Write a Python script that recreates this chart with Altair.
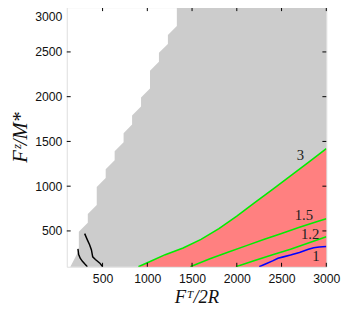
import altair as alt
import pandas as pd

# staircase left edge of the gray region
gray_x = [1330, 1330, 1230, 1230, 1130, 1130, 1030, 1030, 930, 930, 830, 830,
          735, 735, 635, 635, 535, 535, 435, 435, 335, 335, 235, 235, 140]
gray_y = [3000, 2790, 2690, 2590, 2490, 2390, 2290, 2090, 1990, 1890, 1790, 1690,
          1590, 1490, 1390, 1290, 1190, 1090, 990, 790, 690, 590, 490, 280, 100]

# contour curves
c3_x = [900, 1000, 1200, 1400, 1600, 1800, 2000, 2200, 2400, 2600, 2800, 3000]
c3_y = [100, 145, 235, 310, 405, 525, 665, 815, 965, 1115, 1265, 1420]
c15_x = [1480, 1700, 1900, 2100, 2300, 2500, 2700, 2900, 3000]
c15_y = [100, 190, 262, 333, 403, 470, 540, 605, 635]
c12_x = [1990, 2200, 2400, 2600, 2800, 3000]
c12_y = [100, 170, 235, 295, 365, 435]
c1_x = [2250, 2320, 2400, 2460, 2520, 2600, 2700, 2800, 2860, 2920, 3000]
c1_y = [100, 130, 165, 195, 210, 230, 260, 295, 312, 320, 325]
blackA_x = [300, 330, 355, 375, 390, 420, 470, 500]
blackA_y = [470, 400, 345, 290, 210, 180, 140, 100]
blackB_x = [225, 232, 250, 275, 300, 330]
blackB_y = [300, 240, 195, 160, 132, 100]

lab_text = ["3", "1.5", "1.2", "1"]
lab_x = [2710, 2750, 2820, 2885]
lab_y = [1350, 675, 460, 220]

ticks = [500, 1000, 1500, 2000, 2500, 3000]

W, H = 265, 265
xs = alt.Scale(domain=[100, 3000], nice=False, zero=False)
ys = alt.Scale(domain=[100, 3000], nice=False, zero=False)

xax = alt.Axis(values=ticks, format="d", labelOverlap=False, labelFlush=False,
               title="Fᵀ/2R", grid=False, ticks=False, domain=False,
               labelFont="Liberation Sans", labelFontSize=12.5, labelColor="#111",
               labelPadding=6, titleFont="Liberation Serif", titleFontStyle="italic",
               titleFontWeight="normal", titleFontSize=19, titleColor="#111", titlePadding=3)
yax = alt.Axis(values=ticks, format="d", labelOverlap=False, labelFlush=True,
               labelFlushOffset=-4,
               title="Fᶻ/M*", grid=False, ticks=False, domain=False,
               labelFont="Liberation Sans", labelFontSize=12.5, labelColor="#111",
               labelPadding=5, titleFont="Liberation Serif", titleFontStyle="italic",
               titleFontWeight="normal", titleFontSize=21, titleColor="#111", titlePadding=4)

gray_df = pd.DataFrame({"x": gray_x, "y": gray_y})
gray = alt.Chart(gray_df).mark_area(orient="horizontal", color="#cccccc", opacity=1).encode(
    y=alt.Y("y:Q", scale=ys, axis=yax),
    x=alt.X("x:Q", scale=xs, axis=xax),
    x2=alt.datum(3000),
)

pink_df = pd.DataFrame({"x": c3_x, "y": c3_y})
pink = alt.Chart(pink_df).mark_area(color="#ff8080", opacity=1).encode(
    x=alt.X("x:Q", scale=xs), y=alt.Y("y:Q", scale=ys), y2=alt.datum(100)
)

green_df = pd.concat([
    pd.DataFrame({"x": c3_x, "y": c3_y, "s": "3"}),
    pd.DataFrame({"x": c15_x, "y": c15_y, "s": "1.5"}),
    pd.DataFrame({"x": c12_x, "y": c12_y, "s": "1.2"}),
])
green = alt.Chart(green_df).mark_line(color="#00ee00", strokeWidth=1.6, clip=True).encode(
    x=alt.X("x:Q", scale=xs), y=alt.Y("y:Q", scale=ys), detail="s:N"
)

blue = alt.Chart(pd.DataFrame({"x": c1_x, "y": c1_y})).mark_line(
    color="#0000ff", strokeWidth=1.6, clip=True).encode(
    x=alt.X("x:Q", scale=xs), y=alt.Y("y:Q", scale=ys))

black_df = pd.concat([
    pd.DataFrame({"x": blackA_x, "y": blackA_y, "s": "a"}),
    pd.DataFrame({"x": blackB_x, "y": blackB_y, "s": "b"}),
])
black = alt.Chart(black_df).mark_line(color="black", strokeWidth=1.5, clip=True).encode(
    x=alt.X("x:Q", scale=xs), y=alt.Y("y:Q", scale=ys), detail="s:N", order="y:Q")

labels = alt.Chart(pd.DataFrame({"t": lab_text, "x": lab_x, "y": lab_y})).mark_text(
    font="Liberation Serif", fontSize=15, color="#222").encode(
    x=alt.X("x:Q", scale=xs), y=alt.Y("y:Q", scale=ys), text="t:N")

tdf = pd.DataFrame({"v": ticks})
tx_b = alt.Chart(tdf).mark_rule(color="black", strokeWidth=1).encode(
    x=alt.X("v:Q", scale=xs), y=alt.value(H), y2=alt.value(H - 4))
tx_t = alt.Chart(tdf).mark_rule(color="black", strokeWidth=1).encode(
    x=alt.X("v:Q", scale=xs), y=alt.value(0), y2=alt.value(4))
ty_l = alt.Chart(tdf).mark_rule(color="black", strokeWidth=1).encode(
    y=alt.Y("v:Q", scale=ys), x=alt.value(0), x2=alt.value(4))
ty_r = alt.Chart(tdf).mark_rule(color="black", strokeWidth=1).encode(
    y=alt.Y("v:Q", scale=ys), x=alt.value(W), x2=alt.value(W - 4))

chart = alt.layer(gray, pink, green, blue, black, labels, tx_b, tx_t, ty_l, ty_r).properties(
    width=W, height=H,
    autosize=alt.AutoSizeParams(type="none"),
    padding={"left": 60, "top": -4, "right": 15, "bottom": 40},
).configure_view(stroke="black", strokeWidth=1).configure(background="white")

chart.save("out.html", embed_options={"renderer": "svg", "actions": False})
